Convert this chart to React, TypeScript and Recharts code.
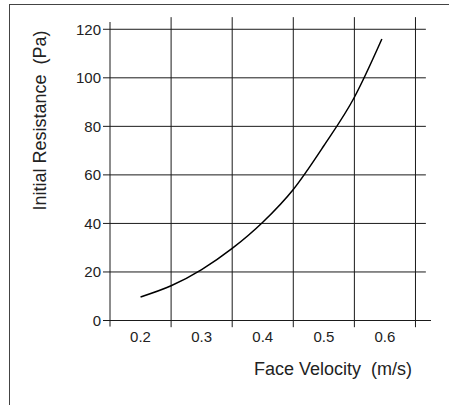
import { LineChart, Line, XAxis, YAxis, ReferenceLine, Label } from 'recharts'

// values
const velocity = [0.2, 0.25, 0.3, 0.35, 0.4, 0.45, 0.5, 0.55, 0.595]
const resistance = [9.7, 14.3, 21, 29.7, 40.5, 54, 72, 92, 116]

const xTicks = [0.2, 0.3, 0.4, 0.5, 0.6]
const xGrid = [0.25, 0.35, 0.45, 0.55, 0.65]
const yTicks = [0, 20, 40, 60, 80, 100, 120]
const yGrid = [20, 40, 60, 80, 100, 120]

const data = velocity.map((v, i) => ({ v, r: resistance[i] }))

const font = '"Liberation Sans", Arial, sans-serif'
const ink = '#1a1a1a'

export default function App() {
  return (
    <div style={{ position: 'absolute', left: 0, top: 0, width: 449, height: 405, overflow: 'hidden', background: '#fff' }}>
      <div style={{ position: 'absolute', left: 9, top: 4, width: 460, height: 420, border: '1px solid #444' }} />
      <div style={{ position: 'absolute', left: 0, top: 0 }}>
        <LineChart width={449} height={405} data={data} margin={{ top: 22, right: 18, left: 0, bottom: 24.5 }} style={{ fontFamily: font }}>
          <XAxis
            type="number"
            dataKey="v"
            domain={[0.15, 0.6754]}
            ticks={xTicks}
            allowDataOverflow
            tickLine={false}
            tickSize={6}
            tickMargin={5}
            height={60}
            axisLine={{ stroke: ink }}
            tick={{ fill: '#222', fontSize: 15 }}
            tickFormatter={(v) => v.toFixed(1)}
          >
            <Label
              content={() => (
                <text x={333} y={375} textAnchor="middle" fontSize={18} fill="#222" fontFamily={font} style={{ whiteSpace: 'pre' }}>
                  Face Velocity  (m/s)
                </text>
              )}
            />
          </XAxis>
          <YAxis
            type="number"
            domain={[0, 123]}
            ticks={yTicks}
            allowDataOverflow
            width={110}
            tickSize={7}
            tickMargin={2}
            axisLine={false}
            tickLine={{ stroke: ink }}
            tick={{ fill: '#222', fontSize: 15 }}
          >
            <Label
              content={() => (
                <text x={40} y={120.5} transform="rotate(-90 40 120.5)" textAnchor="middle" dominantBaseline="central" fontSize={18} fill="#222" fontFamily={font} style={{ whiteSpace: 'pre' }}>
                  Initial Resistance  (Pa)
                </text>
              )}
            />
          </YAxis>
          <ReferenceLine segment={[{ x: 0.15, y: -2.5 }, { x: 0.15, y: 123 }]} stroke={ink} ifOverflow="visible" />
          {yGrid.map((y) => (
            <ReferenceLine key={'h' + y} segment={[{ x: 0.15, y }, { x: 0.667, y }]} stroke={ink} ifOverflow="visible" />
          ))}
          {xGrid.map((x) => (
            <ReferenceLine key={'v' + x} segment={[{ x, y: -2.76 }, { x, y: 125 }]} stroke={ink} ifOverflow="visible" />
          ))}
          <Line type="monotone" dataKey="r" stroke="#000" strokeWidth={1.5} dot={false} isAnimationActive={false} />
        </LineChart>
      </div>
    </div>
  )
}
